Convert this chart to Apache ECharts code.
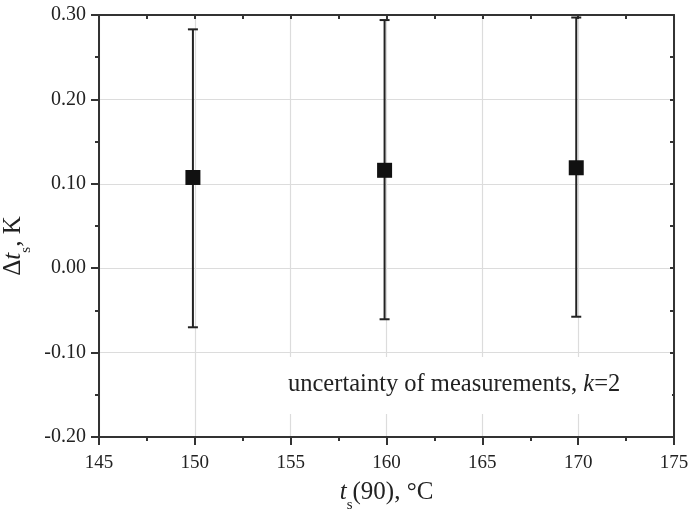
<!DOCTYPE html>
<html>
<head>
<meta charset="utf-8">
<script src="https://cdn.jsdelivr.net/npm/echarts@6/dist/echarts.min.js"></script>
<style>html,body{margin:0;padding:0;background:#fff;}#c{width:689px;height:513px;}</style>
</head>
<body>
<div id="c"></div>
<script>
// Data
const xVals = [149.9, 159.9, 169.9];
const meanVals = [0.1075, 0.116, 0.119];
const upperVals = [0.283, 0.294, 0.297];
const lowerVals = [-0.070, -0.0605, -0.0575];
const xTitle = ['t', 's', '(90), °C'];
const yTitle = ['Δ', 't', 's', ', K'];
const noteText = ['uncertainty of measurements, ', 'k', '=2'];

const FONT = '"Liberation Serif", "Times New Roman", serif';
const AX = '#333';
const GRIDC = '#dcdcdc';

const chart = echarts.init(document.getElementById('c'), null, {renderer: 'canvas'});

const errData = xVals.map((x, i) => [x, lowerVals[i], upperVals[i]]);
const ptData = xVals.map((x, i) => [x, meanVals[i]]);

const baseAxisLine = {show: true, onZero: false, lineStyle: {color: AX, width: 2}};
const titleRich = {
  i: {fontFamily: FONT, fontSize: 25, fontStyle: 'italic', color: '#222', verticalAlign: 'bottom', lineHeight: 30, padding: [0, 0, 8, 0]},
  sub: {fontFamily: FONT, fontSize: 15, color: '#222', verticalAlign: 'bottom', lineHeight: 30},
  n: {fontFamily: FONT, fontSize: 25, color: '#222', verticalAlign: 'bottom', lineHeight: 30, padding: [0, 0, 8, 0]}
};

chart.setOption({
  backgroundColor: '#fff',
  animation: false,
  grid: {left: 99, right: 15, top: 15, bottom: 76, containLabel: false, outerBoundsMode: 'none'},
  xAxis: [{
    type: 'value', min: 145, max: 175, interval: 5,
    position: 'bottom',
    axisLine: baseAxisLine,
    axisTick: {show: true, inside: false, length: 8, lineStyle: {color: AX, width: 2}},
    minorTick: {show: true, splitNumber: 2, length: 4, lineStyle: {color: AX, width: 2}},
    splitLine: {show: true, lineStyle: {color: GRIDC, width: 1.2}},
    axisLabel: {fontFamily: FONT, fontSize: 19, color: '#222', margin: 17},
    name: '{i|' + xTitle[0] + '}{sub|' + xTitle[1] + '}{n|' + xTitle[2] + '}',
    nameLocation: 'middle', nameGap: 46,
    nameTextStyle: {fontFamily: FONT, fontSize: 25, color: '#222', rich: titleRich}
  }, {
    type: 'value', min: 145, max: 175, interval: 5,
    position: 'top',
    axisLine: baseAxisLine,
    axisTick: {show: true, inside: true, length: 4, lineStyle: {color: AX, width: 2}},
    minorTick: {show: true, splitNumber: 2, length: 4, lineStyle: {color: AX, width: 2}},
    splitLine: {show: false},
    axisLabel: {show: false}
  }],
  yAxis: [{
    type: 'value', min: -0.2, max: 0.3, interval: 0.1,
    position: 'left',
    axisLine: baseAxisLine,
    axisTick: {show: true, inside: false, length: 8, lineStyle: {color: AX, width: 2}},
    minorTick: {show: true, splitNumber: 2, length: 4, lineStyle: {color: AX, width: 2}},
    splitLine: {show: true, lineStyle: {color: GRIDC, width: 1.2}},
    axisLabel: {fontFamily: FONT, fontSize: 20, color: '#222', margin: 13,
      formatter: v => v.toFixed(2)},
    name: '{n|' + yTitle[0] + '}{i|' + yTitle[1] + '}{sub|' + yTitle[2] + '}{n|' + yTitle[3] + '}',
    nameLocation: 'middle', nameGap: 63, nameRotate: 90,
    nameTextStyle: {fontFamily: FONT, fontSize: 25, color: '#222', rich: titleRich, padding: [0, 40, 0, 0]}
  }, {
    type: 'value', min: -0.2, max: 0.3, interval: 0.1,
    position: 'right',
    axisLine: baseAxisLine,
    axisTick: {show: true, inside: true, length: 4, lineStyle: {color: AX, width: 2}},
    minorTick: {show: true, splitNumber: 2, length: 4, lineStyle: {color: AX, width: 2}},
    splitLine: {show: false},
    axisLabel: {show: false}
  }],
  graphic: [{
    type: 'rect', z: 1, silent: true,
    shape: {x: 270, y: 357, width: 402, height: 57},
    style: {fill: '#fff'}
  }, {
    type: 'text', z: 5, silent: true,
    x: 288, y: 385,
    style: {
      text: '{n|' + noteText[0] + '}{i|' + noteText[1] + '}{n|' + noteText[2] + '}',
      verticalAlign: 'middle', align: 'left',
      fontFamily: FONT, fontSize: 24.5, fill: '#222',
      rich: {
        n: {fontFamily: FONT, fontSize: 24.5, fill: '#222'},
        i: {fontFamily: FONT, fontSize: 24.5, fontStyle: 'italic', fill: '#222'}
      }
    }
  }],
  series: [{
    type: 'custom',
    xAxisIndex: 0, yAxisIndex: 0,
    z: 3,
    data: errData,
    encode: {x: 0, y: [1, 2]},
    renderItem: function (params, api) {
      const x = api.value(0);
      const lo = api.coord([x, api.value(1)]);
      const hi = api.coord([x, api.value(2)]);
      const hw = 5;
      const st = {stroke: '#222', lineWidth: 2};
      return {
        type: 'group',
        children: [
          {type: 'line', shape: {x1: hi[0], y1: hi[1], x2: lo[0], y2: lo[1]}, style: st},
          {type: 'line', shape: {x1: hi[0] - hw, y1: hi[1], x2: hi[0] + hw, y2: hi[1]}, style: st},
          {type: 'line', shape: {x1: lo[0] - hw, y1: lo[1], x2: lo[0] + hw, y2: lo[1]}, style: st}
        ]
      };
    }
  }, {
    type: 'scatter',
    xAxisIndex: 0, yAxisIndex: 0,
    z: 4,
    symbol: 'rect', symbolSize: 15,
    itemStyle: {color: '#111', opacity: 1},
    data: ptData
  }]
});
</script>
</body>
</html>
